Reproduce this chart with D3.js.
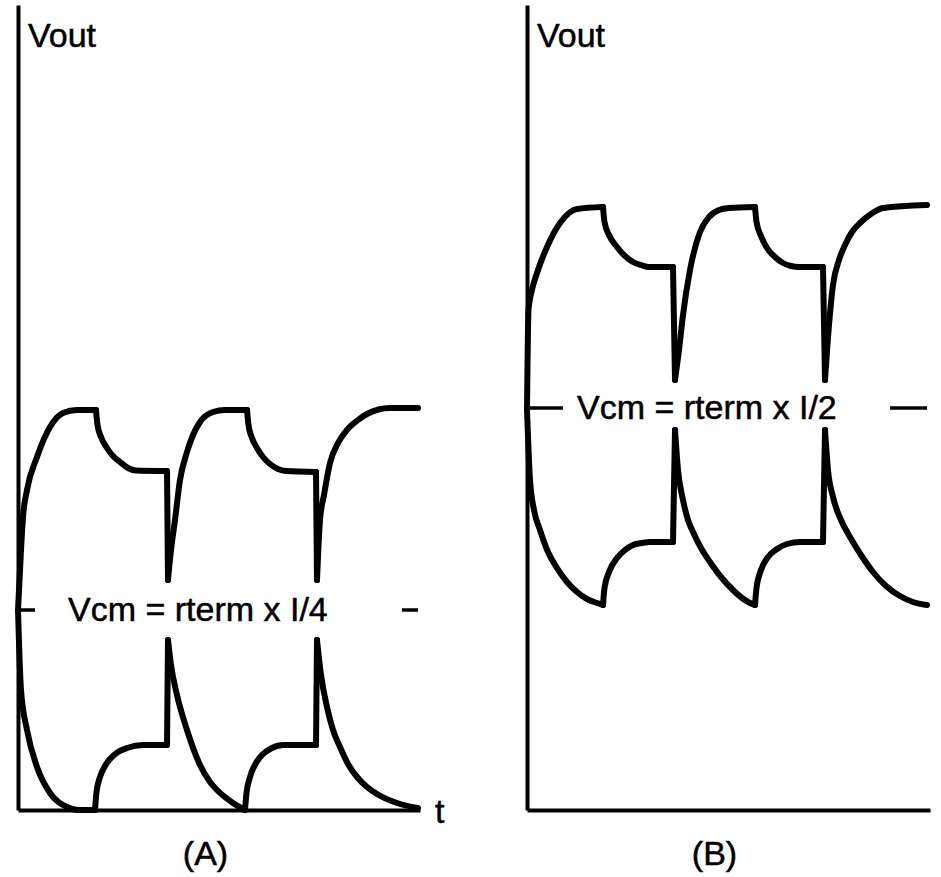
<!DOCTYPE html>
<html>
<head>
<meta charset="utf-8">
<script src="https://cdn.jsdelivr.net/npm/d3@7"></script>
<style>
    body { margin: 0; background: #fff; }
    svg { display: block; }
    text { font-family: "Liberation Sans", Arial, Helvetica, sans-serif; fill: #000; stroke: #000; stroke-width: 0.5; }
</style>
</head>
<body>
<svg id="chart" width="941" height="877"></svg>
<script>
// waveforms: [t, Vout] runs, each run is one smooth stroke
const upperA = [
    [[0, 2.0], [0.3, 2.6], [0.5, 2.93], [0.9, 3.2], [1.9, 3.53], [3.2, 3.83], [4.5, 3.97], [5.9, 4.0], [7.8, 4.0]],
    [[7.8, 4.0], [7.95, 3.85], [8.3, 3.73], [8.9, 3.62], [9.5, 3.54], [10.2, 3.48], [11.0, 3.42], [11.8, 3.395], [14.9, 3.39]],
    [[14.9, 3.39], [15.0, 2.3]],
    [[15.0, 2.3], [15.3, 2.6], [15.7, 2.9], [16.2, 3.3], [16.9, 3.58], [17.5, 3.75], [18.2, 3.88], [19.5, 3.98], [20.7, 4.0], [22.9, 4.0]],
    [[22.9, 4.0], [23.05, 3.85], [23.4, 3.72], [23.9, 3.62], [24.5, 3.53], [25.2, 3.46], [26.0, 3.41], [26.8, 3.39], [29.8, 3.38]],
    [[29.8, 3.38], [29.9, 2.3]],
    [[29.9, 2.3], [30.2, 2.9], [30.6, 3.15], [31.2, 3.47], [32.0, 3.67], [32.9, 3.8], [34.0, 3.9], [34.9, 3.96], [37.2, 4.02], [40, 4.02]]
];
const lowerA = [
    [[0, 2.0], [0.3, 1.2], [0.9, 0.8], [1.9, 0.43], [3.2, 0.17], [4.9, 0.03], [6.0, 0.0], [7.7, 0.0]],
    [[7.7, 0.0], [7.85, 0.18], [8.2, 0.33], [8.7, 0.44], [9.2, 0.51], [10.0, 0.58], [10.9, 0.62], [12.5, 0.65], [14.9, 0.65]],
    [[14.9, 0.65], [15.0, 1.7]],
    [[15.0, 1.7], [15.3, 1.45], [15.9, 1.15], [16.9, 0.8], [18.2, 0.45], [19.2, 0.28], [19.9, 0.2], [21.5, 0.07], [22.7, 0.0]],
    [[22.7, 0.0], [22.85, 0.17], [23.2, 0.33], [23.8, 0.47], [24.5, 0.56], [25.4, 0.62], [26.5, 0.65], [29.8, 0.65]],
    [[29.8, 0.65], [29.9, 1.7]],
    [[29.9, 1.7], [30.3, 1.35], [30.9, 1.03], [31.5, 0.8], [32.2, 0.63], [33.0, 0.46], [33.9, 0.33], [34.9, 0.23], [35.9, 0.16], [37.9, 0.07], [40, 0.02]]
];
const upperB = [
    [[0, 4.0], [0.15, 5.0], [0.5, 5.2], [1.0, 5.37], [2.0, 5.63], [3.3, 5.87], [4.2, 5.97], [5.0, 6.01], [7.6, 6.03]],
    [[7.6, 6.03], [7.75, 5.88], [8.2, 5.75], [9.0, 5.63], [9.8, 5.54], [10.6, 5.48], [11.4, 5.45], [12.2, 5.43], [14.6, 5.43]],
    [[14.6, 5.43], [14.8, 4.3]],
    [[14.8, 4.3], [15.2, 4.6], [15.6, 4.95], [16.3, 5.4], [17.3, 5.78], [18.2, 5.93], [19.2, 6.0], [20.2, 6.02], [22.8, 6.03]],
    [[22.8, 6.03], [22.95, 5.88], [23.4, 5.74], [24.0, 5.62], [24.8, 5.53], [25.6, 5.47], [26.4, 5.44], [27.2, 5.43], [29.6, 5.43]],
    [[29.6, 5.43], [29.8, 4.3]],
    [[29.8, 4.3], [30.2, 4.85], [30.6, 5.25], [31.2, 5.5], [31.8, 5.65], [32.5, 5.78], [33.3, 5.87], [34.4, 5.96], [35.6, 6.02], [40, 6.05]]
];
const lowerB = [
    [[0, 4.0], [0.3, 3.3], [0.7, 3.0], [1.3, 2.8], [2.1, 2.58], [3.0, 2.42], [4.0, 2.28], [5.0, 2.18], [6.0, 2.11], [7.0, 2.07], [7.6, 2.05]],
    [[7.6, 2.05], [7.75, 2.22], [8.2, 2.38], [9.0, 2.52], [9.8, 2.6], [10.6, 2.65], [11.5, 2.67], [12.3, 2.68], [14.6, 2.68]],
    [[14.6, 2.68], [14.8, 3.8]],
    [[14.8, 3.8], [15.1, 3.4], [15.6, 3.1], [16.1, 2.9], [16.6, 2.78], [17.4, 2.62], [18.3, 2.48], [19.4, 2.33], [20.6, 2.2], [21.5, 2.12], [22.3, 2.07], [22.8, 2.05]],
    [[22.8, 2.05], [22.95, 2.22], [23.4, 2.4], [24.1, 2.53], [25.0, 2.61], [26.0, 2.66], [27.3, 2.68], [29.6, 2.68]],
    [[29.6, 2.68], [29.8, 3.8]],
    [[29.8, 3.8], [30.1, 3.4], [30.6, 3.13], [31.4, 2.9], [32.3, 2.73], [33.4, 2.55], [34.6, 2.38], [35.9, 2.24], [37.3, 2.14], [38.6, 2.08], [40, 2.05]]
];

// Vcm marks on either side of the label: [t0, t1]
const vcmA = 2.0;
const vcmB = 4.02;
const vcmDashesA = [[0, 1.7], [38.4, 40]];
const vcmDashesB = [[0.3, 3.6], [36.3, 40]];

const panelLabels = ["(A)", "(B)"];
const vcmTexts = ["Vcm = rterm x I/4", "Vcm = rterm x I/2"];

const svg = d3.select("#chart");
svg.append("rect").attr("width", 941).attr("height", 877).attr("fill", "#fff");

const y = d3.scaleLinear().domain([0, 8.05]).range([810, 5]);
const xA = d3.scaleLinear().domain([0, 40]).range([18, 418]);
const xB = d3.scaleLinear().domain([0, 40]).range([527, 927]);

function drawPanel(x, upper, lower, vcm, dashes, vcmText, label, showT) {
    const g = svg.append("g");

    const xAxisEnd = x.range()[1] + (showT ? 2 : 3);
    const xAxis = g.append("g")
        .attr("transform", `translate(0,${y(0)})`)
        .call(d3.axisBottom(d3.scaleLinear().range([x.range()[0], xAxisEnd])).tickValues([]).tickSizeOuter(0));
    const yAxis = g.append("g")
        .attr("transform", `translate(${x(0)},0)`)
        .call(d3.axisLeft(y).tickValues([]).tickSizeOuter(0));
    [xAxis, yAxis].forEach(a => a.select(".domain")
        .attr("stroke", "#000")
        .attr("stroke-width", 4));

    const line = d3.line()
        .x(d => x(d[0]))
        .y(d => y(d[1]))
        .curve(d3.curveMonotoneX);

    g.append("g")
        .selectAll("path")
        .data(upper.concat(lower))
        .enter()
        .append("path")
        .attr("d", line)
        .attr("fill", "none")
        .attr("stroke", "#000")
        .attr("stroke-width", 6)
        .attr("stroke-linecap", "round")
        .attr("stroke-linejoin", "round");

    g.append("g")
        .selectAll("line")
        .data(dashes)
        .enter()
        .append("line")
        .attr("x1", d => x(d[0]))
        .attr("x2", d => x(d[1]))
        .attr("y1", y(vcm))
        .attr("y2", y(vcm))
        .attr("stroke", "#000")
        .attr("stroke-width", 3.5);

    g.append("text")
        .attr("x", x(0) + 10)
        .attr("y", 47)
        .attr("font-size", 34)
        .text("Vout");

    g.append("text")
        .attr("x", x(5))
        .attr("y", y(vcm) + 11)
        .attr("font-size", 34)
        .text(vcmText);

    g.append("text")
        .attr("x", x(18.75))
        .attr("y", 865)
        .attr("text-anchor", "middle")
        .attr("font-size", 34)
        .text(label);

    if (showT) {
        g.append("text")
            .attr("x", x(41.7))
            .attr("y", 823)
            .attr("font-size", 34)
            .text("t");
    }
}

drawPanel(xA, upperA, lowerA, vcmA, vcmDashesA, vcmTexts[0], panelLabels[0], true);
drawPanel(xB, upperB, lowerB, vcmB, vcmDashesB, vcmTexts[1], panelLabels[1], false);
</script>
</body>
</html>
